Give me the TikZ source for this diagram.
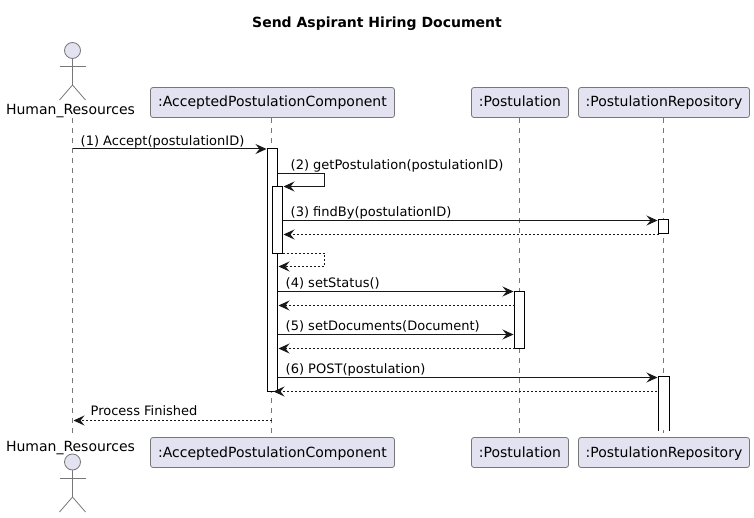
\documentclass[tikz,border=0pt]{standalone}
\usepackage{fontspec}
\setmainfont{DejaVu Sans}
\usetikzlibrary{arrows.meta}
\definecolor{boxfill}{HTML}{E2E2F0}
\definecolor{ink}{HTML}{181818}
\definecolor{thin}{HTML}{777777}
\tikzset{%
  participant/.style={draw=thin, fill=boxfill, line width=0.8pt, rounded corners=2.5pt, inner sep=0pt,
    minimum height=30pt, text height=11.5pt, text depth=2.5pt, font=\fontsize{14}{16}\selectfont},% box at both ends of a lifeline
  actorname/.style={inner sep=0pt, anchor=base, font=\fontsize{14}{16}\selectfont},
  actorline/.style={draw=thin, line width=0.8pt},
  lifeline/.style={draw=thin, line width=0.8pt, dash pattern=on 5pt off 5pt},
  bar/.style={draw=black, fill=white, line width=1pt, minimum width=10pt, inner sep=0pt},% activation
  msg/.style={draw=ink, line width=1pt, -{Stealth[length=11pt,width=10pt,inset=4pt]}},
  reply/.style={msg, dash pattern=on 2pt off 2pt},
  msgtext/.style={inner sep=0pt, anchor=base west, text=black, font=\fontsize{13}{15}\selectfont}
}
\begin{document}
\begin{tikzpicture}[x=1pt,y=-1pt]
\useasboundingbox (0,0) rectangle (754,518);

\node[inner sep=0pt, anchor=base, font=\fontsize{14}{16}\selectfont\bfseries] (title) at (377,28) {Send Aspirant Hiring Document};

% participants
\node[participant, minimum width=244pt] (compT) at (272.5,102.5) {:AcceptedPostulationComponent};
\node[participant, minimum width=97pt] (postT) at (520,102.5) {:Postulation};
\node[participant, minimum width=171pt] (repoT) at (664,102.5) {:PostulationRepository};
\node[participant, minimum width=244pt] (compB) at (272.5,452.5) {:AcceptedPostulationComponent};
\node[participant, minimum width=97pt] (postB) at (520,452.5) {:Postulation};
\node[participant, minimum width=171pt] (repoB) at (664,452.5) {:PostulationRepository};

% actor, top
\node[actorname] (hrT) at (70.5,115) {Human\_Resources};
\node[circle, draw=thin, fill=boxfill, line width=0.8pt, minimum size=16pt, inner sep=0pt] (headT) at (72.5,50.5) {};
\coordinate (hipT) at (72.5,85);
\draw[actorline] (headT) -- (hipT);
\draw[actorline] (59.5,66) -- (85.5,66);
\draw[actorline] (59.5,100) -- (hipT) -- (85.5,100);

% actor, bottom
\node[actorname] (hrB) at (70.5,451) {Human\_Resources};
\node[circle, draw=thin, fill=boxfill, line width=0.8pt, minimum size=16pt, inner sep=0pt] (headB) at (72.5,462) {};
\coordinate (hipB) at (72.5,497);
\draw[actorline] (headB) -- (hipB);
\draw[actorline] (59.5,478) -- (85.5,478);
\draw[actorline] (59.5,512) -- (hipB) -- (85.5,512);

% lifelines
\coordinate (hrtop) at (72.5,118);
\coordinate (hrend) at (72.5,433);
\coordinate (compend) at (271.5,433);
\coordinate (postend) at (519.5,433);
\coordinate (repoend) at (663.5,433);
\draw[lifeline] (hrtop) -- (hrend);
\draw[lifeline] (271.5,118) -- (compend);
\draw[lifeline] (519.5,118) -- (postend);
\draw[lifeline] (663.5,118) -- (repoend);

% activations
\node[bar, minimum height=242.5pt] (barA) at (272.5,270.25) {};
\node[bar, minimum height=67.5pt] (barB) at (277.5,220.25) {};
\node[bar, minimum height=14pt] (barC) at (663.5,227) {};
\node[bar, minimum height=57pt] (barD) at (519.5,320) {};
\node[bar, draw=none, minimum height=53pt] (barE) at (663.5,403.5) {};
\draw[line width=1pt] (barE.south west) -- (barE.north west) -- (barE.north east) -- (barE.south east);

% messages
\coordinate (m1a) at (72.5,149);
\coordinate (m1b) at (266.5,149);
\draw[msg] (m1a) -- (m1b);
\node[msgtext] (t1) at (80.5,145.5) {(1) Accept(postulationID)};

\coordinate (m2a) at (277.5,173.5);
\coordinate (m2r) at (324.5,173.5);
\coordinate (m2s) at (324.5,186.5);
\coordinate (m2b) at (283.5,186.5);
\draw[msg] (m2a) -- (m2r) -- (m2s) -- (m2b);
\node[msgtext] (t2) at (290.5,169.5) {(2) getPostulation(postulationID)};

\coordinate (m3a) at (282.5,220.5);
\coordinate (m3b) at (657.5,220.5);
\draw[msg] (m3a) -- (m3b);
\node[msgtext] (t3) at (290.5,216.5) {(3) findBy(postulationID)};
\coordinate (r3a) at (658.5,234.5);
\coordinate (r3b) at (283.5,234.5);
\draw[reply] (r3a) -- (r3b);

\coordinate (r2a) at (282.5,253.5);
\coordinate (r2r) at (324.5,253.5);
\coordinate (r2s) at (324.5,266.5);
\coordinate (r2b) at (278.5,266.5);
\draw[reply] (r2a) -- (r2r) -- (r2s) -- (r2b);

\coordinate (m4a) at (277.5,291.5);
\coordinate (m4b) at (513.5,291.5);
\draw[msg] (m4a) -- (m4b);
\node[msgtext] (t4) at (285.5,287.5) {(4) setStatus()};
\coordinate (r4a) at (514.5,305.5);
\coordinate (r4b) at (278.5,305.5);
\draw[reply] (r4a) -- (r4b);

\coordinate (m5a) at (277.5,334.5);
\coordinate (m5b) at (513.5,334.5);
\draw[msg] (m5a) -- (m5b);
\node[msgtext] (t5) at (285.5,330.5) {(5) setDocuments(Document)};
\coordinate (r5a) at (514.5,348.5);
\coordinate (r5b) at (278.5,348.5);
\draw[reply] (r5a) -- (r5b);

\coordinate (m6a) at (277.5,377.5);
\coordinate (m6b) at (657.5,377.5);
\draw[msg] (m6a) -- (m6b);
\node[msgtext] (t6) at (285.5,373.5) {(6) POST(postulation)};
\coordinate (r6a) at (657,391.5);
\coordinate (r6b) at (273.5,391.5);
\draw[reply] (r6a) -- (r6b);

\coordinate (r7a) at (271.5,420.5);
\coordinate (r7b) at (73.5,420.5);
\draw[reply] (r7a) -- (r7b);
\node[msgtext] (t7) at (90.5,415.3) {Process Finished};
\end{tikzpicture}
\end{document}
